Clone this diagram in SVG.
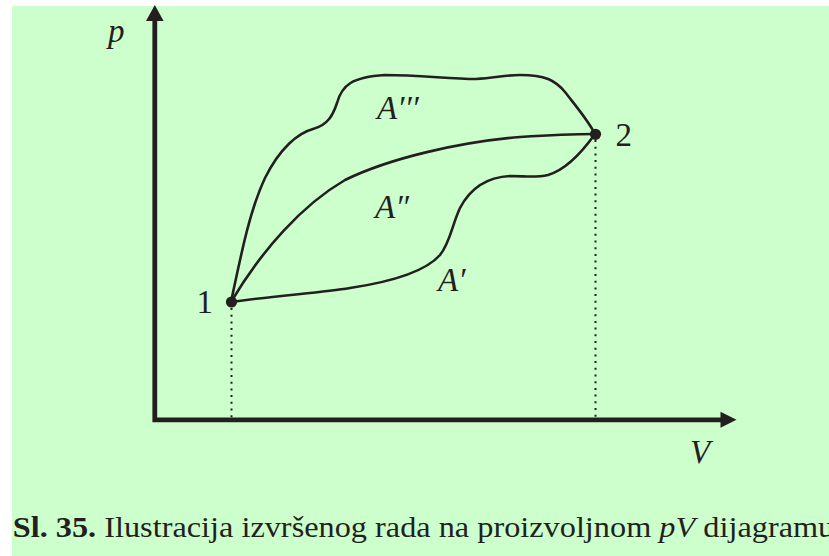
<svg xmlns="http://www.w3.org/2000/svg" width="829" height="556" viewBox="0 0 829 556">
<style>
.curve{fill:none;stroke:#231f20;stroke-width:2.6;stroke-linecap:round;stroke-linejoin:round}
.dot{fill:none;stroke:#231f20;stroke-width:2;stroke-dasharray:2 4.7}
</style>
<rect x="0" y="0" width="829" height="556" fill="#ffffff"/>
<rect x="12" y="6" width="817" height="550" fill="#ccffcc"/>
<g id="axes">
<path d="M154.8,20 L154.8,419.8 L722,419.8" fill="none" stroke="#231f20" stroke-width="4.8" stroke-linejoin="miter"/>
<polygon points="154.8,5 146,21 163.6,21" fill="#231f20"/>
<polygon points="736.5,419.8 720.5,411.8 720.5,427.8" fill="#231f20"/>
</g>
<g id="connectors">
<path class="dot" d="M231.5,308 L231.5,418"/>
<path class="dot" d="M595.5,140 L595.5,418"/>
<path id="path-upper" class="curve" d="M231,302 C242,250 250,210 265,178 C280,148 298,133 313,129 C328,125 333,115 337,103 C342,85 352,77 385,75 C420,75 450,79 476,79 C495,78 505,75 520,75 C545,75 555,80 565,92 C575,105 588,120 595,134"/>
<path id="path-middle" class="curve" d="M231,302 C262,250 302,205 345,180 C390,158 460,142 520,137 C550,135 575,134 595,134"/>
<path id="path-lower" class="curve" d="M231,302 C280,295 320,293 350,288 C390,282 425,272 440,255 C450,243 452,225 460,208 C472,185 490,177 510,176 C525,176 535,178 548,175 C565,170 580,155 595,134"/>
</g>
<g font-family="'Liberation Serif', 'Times New Roman', serif" font-size="33" fill="#231f20">
<g id="node-1">
<circle cx="231.5" cy="302" r="5.6" fill="#231f20"/>
<text x="196.5" y="312.5">1</text>
</g>
<g id="node-2">
<circle cx="595.5" cy="134.3" r="5.6" fill="#231f20"/>
<text x="615.5" y="145.5">2</text>
</g>
<g id="labels" font-style="italic">
<text x="108" y="42">p</text>
<text x="690" y="463">V</text>
<text x="377" y="119">A′′′</text>
<text x="375" y="218">A″</text>
<text x="438" y="291">A′</text>
</g>
<g id="caption">
<text transform="translate(12.7,537) scale(1.114,1)" font-size="29"><tspan font-weight="bold">Sl. 35.</tspan> Ilustracija izvršenog rada na proizvoljnom <tspan font-style="italic">pV</tspan> dijagramu</text>
</g>
</g>
</svg>
